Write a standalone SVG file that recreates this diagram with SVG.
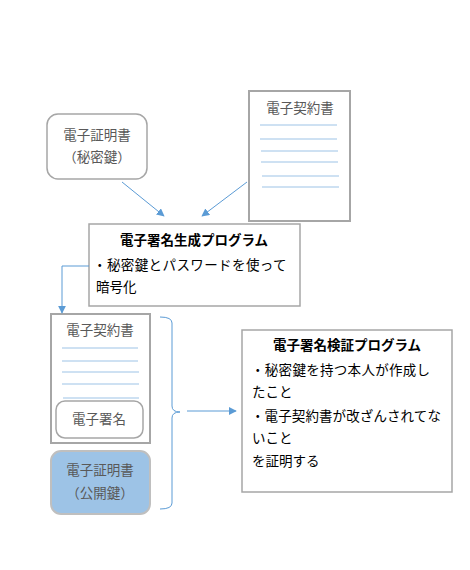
<svg xmlns="http://www.w3.org/2000/svg" width="470" height="570" viewBox="0 0 470 570">
<style>
text{font-family:"Noto Sans CJK JP","Noto Sans",sans-serif;font-size:13.5px}
.g{fill:#595959}
.k{fill:#000}
.b{font-weight:bold}
.box{fill:#fff;stroke:#a6a6a6;stroke-width:1.5}
.doc{fill:#fff;stroke:#a6a6a6;stroke-width:2}
.ln{stroke:#9dc3e6;stroke-width:1}
.con{fill:none;stroke:#5b9bd5;stroke-width:1}
</style>
<defs>
<marker id="ah" viewBox="0 0 10 10" refX="9" refY="5" markerWidth="8" markerHeight="8" markerUnits="userSpaceOnUse" orient="auto">
<path d="M0,0L10,5L0,10z" fill="#5b9bd5"/>
</marker>
</defs>
<rect width="470" height="570" fill="#fff"/>
<g id="cert-private">
<rect class="box" x="47" y="114" width="100" height="65" rx="11"/>
<text class="g" x="97" y="140" text-anchor="middle">電子証明書</text>
<text class="g" x="97" y="162" text-anchor="middle">（秘密鍵）</text>
</g>
<g id="contract1">
<rect class="doc" x="249" y="91" width="101" height="130"/>
<text class="g" x="300" y="113" text-anchor="middle">電子契約書</text>
<line class="ln" x1="260" y1="125" x2="337" y2="125"/>
<line class="ln" x1="260" y1="139" x2="337" y2="139"/>
<line class="ln" x1="261" y1="151" x2="338" y2="151"/>
<line class="ln" x1="261" y1="162" x2="338" y2="162"/>
<line class="ln" x1="262" y1="176" x2="339" y2="176"/>
<line class="ln" x1="262" y1="187" x2="339" y2="187"/>
</g>
<g id="sign-program">
<rect class="box" x="89" y="224" width="211" height="82"/>
<text class="k b" x="194" y="245" text-anchor="middle">電子署名生成プログラム</text>
<text class="k" x="93" y="270" letter-spacing="0.4">・秘密鍵とパスワードを使って</text>
<text class="k" x="96" y="292">暗号化</text>
</g>
<g id="contract2">
<rect class="doc" x="51" y="314" width="99" height="129"/>
<text class="g" x="100" y="335" text-anchor="middle">電子契約書</text>
<line class="ln" x1="62" y1="348" x2="138" y2="348"/>
<line class="ln" x1="62" y1="361" x2="138" y2="361"/>
<line class="ln" x1="62" y1="372" x2="139" y2="372"/>
<line class="ln" x1="62" y1="384" x2="139" y2="384"/>
<line class="ln" x1="63" y1="398" x2="139" y2="398"/>
<g id="signature">
<rect x="56" y="401" width="87" height="37" rx="9" fill="#fff" stroke="#a6a6a6" stroke-width="1.5"/>
<text class="g" x="99" y="424" text-anchor="middle">電子署名</text>
</g>
</g>
<g id="cert-public">
<rect x="51" y="451" width="99" height="63" rx="10" fill="#9dc3e6" stroke="#bfbfbf" stroke-width="2"/>
<text class="g" x="100" y="475" text-anchor="middle">電子証明書</text>
<text class="g" x="100" y="498" text-anchor="middle">（公開鍵）</text>
</g>
<g id="verify-program">
<rect class="box" x="242" y="330" width="210" height="162"/>
<text class="k b" x="347" y="350" text-anchor="middle">電子署名検証プログラム</text>
<text class="k" x="251" y="375" letter-spacing="0.3">・秘密鍵を持つ本人が作成し</text>
<text class="k" x="252" y="397">たこと</text>
<text class="k" x="251" y="421" letter-spacing="0.1">・電子契約書が改ざんされてな</text>
<text class="k" x="252" y="443">いこと</text>
<text class="k" x="252" y="466">を証明する</text>
</g>
<g id="connectors">
<line class="con" x1="122" y1="182" x2="164" y2="216" marker-end="url(#ah)"/>
<line class="con" x1="247" y1="182" x2="202" y2="216" marker-end="url(#ah)"/>
<polyline class="con" points="89,266 62,266 62,313" marker-end="url(#ah)"/>
<path class="con" d="M160,317 Q172,317 172,323 L172,406 Q172,412 180,412 Q172,412 172,418 L172,503 Q172,509 160,509"/>
<line class="con" x1="187" y1="411" x2="236" y2="411" marker-end="url(#ah)"/>
</g>
</svg>
